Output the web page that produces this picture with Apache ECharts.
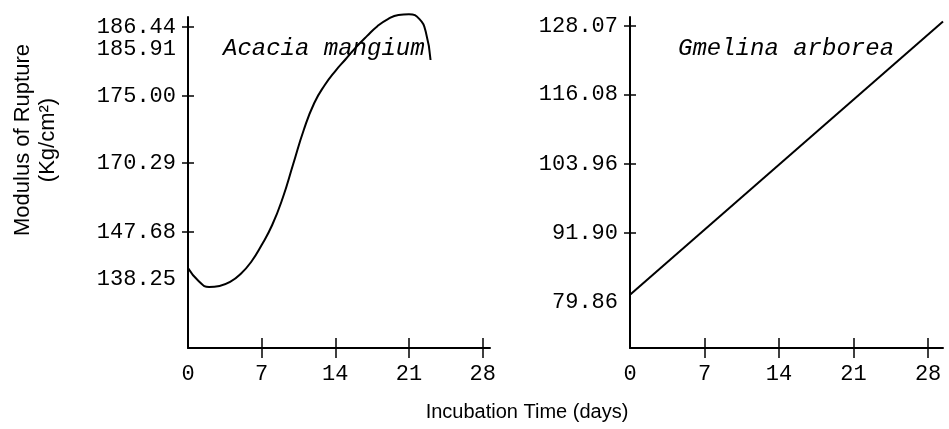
<!DOCTYPE html>
<html>
<head>
<meta charset="utf-8">
<script src="https://cdn.jsdelivr.net/npm/echarts@6.0.0/dist/echarts.min.js"></script>
<style>
  html, body { margin: 0; padding: 0; background: #fff; }
  #chart { width: 949px; height: 429px; }
</style>
</head>
<body>
<div id="chart"></div>
<script>
// incubation time ticks (days)
var dayTicks = [0, 7, 14, 21, 28]

// Acacia mangium: curve
var acaciaDays = [0, 1, 2, 3, 4, 5, 6, 7, 8, 9, 10, 11, 12, 13, 14, 15, 16, 17, 18, 19, 20, 21, 22, 22.6, 23.05]
var acaciaMor = [140.46, 137.85, 136.64, 136.85, 137.65, 139.25, 141.66, 145.07, 149.97, 158.82, 169.96, 172.61, 174.51,
  177.55, 180.80, 183.59, 185.96, 186.22, 186.46, 186.63, 186.73, 186.75, 186.63, 186.32, 183.36]
// printed y labels of the left panel (the printed axis is not linear)
var acaciaTicks = [138.25, 147.68, 170.29, 175.00, 185.91, 186.44]
// height of each printed label above the time axis, in axis units
var acaciaTickHeight = [69, 116, 185, 252, 299, 321]
var acaciaTickMarks = [147.68, 170.29, 175.00, 186.44]

// Gmelina arborea: straight line
var gmelinaDays = [0, 29.4]
var gmelinaMor = [81.1, 128.8]
var gmelinaTicks = [79.86, 91.90, 103.96, 116.08, 128.07]
var gmelinaTickMarks = [91.90, 103.96, 116.08, 128.07]

var mono = "'Liberation Mono', 'Courier New', monospace"
var sans = "'Liberation Sans', Arial, sans-serif"

// map a MOR value onto the printed (piecewise) left axis
function acaciaHeight(v) {
  var i = 0
  while (i < acaciaTicks.length - 2 && v > acaciaTicks[i + 1]) i++
  var v0 = acaciaTicks[i], v1 = acaciaTicks[i + 1]
  var h0 = acaciaTickHeight[i], h1 = acaciaTickHeight[i + 1]
  return h0 + (v - v0) / (v1 - v0) * (h1 - h0)
}

function xAxes(grid, max, inner) {
  return {
    type: 'value',
    gridIndex: grid,
    min: 0,
    max: max,
    position: 'bottom',
    axisLine: { show: !inner, onZero: false, lineStyle: { color: '#000', width: 2 } },
    axisTick: {
      show: true,
      inside: inner,
      length: 10,
      customValues: dayTicks.slice(1),
      lineStyle: { color: '#000', width: 1.5 }
    },
    axisLabel: {
      show: !inner,
      customValues: dayTicks,
      margin: 15,
      color: '#000',
      fontFamily: mono,
      fontSize: 22
    },
    splitLine: { show: false }
  }
}

function yAxes(grid, min, max, labels, marks, fmt, inner) {
  return {
    type: 'value',
    gridIndex: grid,
    min: min,
    max: max,
    position: 'left',
    axisLine: { show: !inner, onZero: false, lineStyle: { color: '#000', width: 2 } },
    axisTick: {
      show: true,
      inside: inner,
      length: 6,
      customValues: marks,
      lineStyle: { color: '#000', width: 1.5 }
    },
    axisLabel: {
      show: !inner,
      customValues: labels,
      formatter: fmt,
      margin: 12,
      color: '#000',
      fontFamily: mono,
      fontSize: 22
    },
    splitLine: { show: false }
  }
}

var chart = echarts.init(document.getElementById('chart'))

var leftLabels = acaciaTicks.map(acaciaHeight)
var leftMarks = acaciaTickMarks.map(acaciaHeight)
var leftFmt = function (val) {
  for (var i = 0; i < leftLabels.length; i++) {
    if (Math.abs(leftLabels[i] - val) < 0.01) return acaciaTicks[i].toFixed(2)
  }
  return ''
}
var rightFmt = function (val) { return val.toFixed(2) }

var option = {
  backgroundColor: '#fff',
  animation: false,
  grid: [
    { left: 188, right: 459, top: 17, bottom: 81 },
    { left: 630, right: 6, top: 17, bottom: 81 }
  ],
  xAxis: [
    xAxes(0, 28.7, false),
    xAxes(0, 28.7, true),
    xAxes(1, 29.4, false),
    xAxes(1, 29.4, true)
  ],
  yAxis: [
    yAxes(0, 0, 331, leftLabels, leftMarks, leftFmt, false),
    yAxes(0, 0, 331, leftLabels, leftMarks, leftFmt, true),
    yAxes(1, 71.8, 129.6, gmelinaTicks, gmelinaTickMarks, rightFmt, false),
    yAxes(1, 71.8, 129.6, gmelinaTicks, gmelinaTickMarks, rightFmt, true)
  ],
  graphic: [
    {
      type: 'text',
      x: 223,
      y: 49,
      style: {
        text: 'Acacia mangium',
        fontFamily: mono,
        fontStyle: 'italic',
        fontSize: 24,
        fill: '#000',
        verticalAlign: 'middle'
      }
    },
    {
      type: 'text',
      x: 678,
      y: 49,
      style: {
        text: 'Gmelina arborea',
        fontFamily: mono,
        fontStyle: 'italic',
        fontSize: 24,
        fill: '#000',
        verticalAlign: 'middle'
      }
    },
    {
      type: 'text',
      x: 35,
      y: 140,
      rotation: Math.PI / 2,
      style: {
        text: 'Modulus of Rupture\n(Kg/cm²)',
        fontFamily: sans,
        fontSize: 22,
        lineHeight: 25,
        fill: '#000',
        align: 'center',
        verticalAlign: 'middle'
      }
    },
    {
      type: 'text',
      x: 527,
      y: 412,
      style: {
        text: 'Incubation Time (days)',
        fontFamily: sans,
        fontSize: 20,
        fill: '#000',
        align: 'center',
        verticalAlign: 'middle'
      }
    }
  ],
  series: [
    {
      type: 'line',
      xAxisIndex: 0,
      yAxisIndex: 0,
      data: acaciaDays.map(function (d, i) { return [d, acaciaHeight(acaciaMor[i])] }),
      smooth: 0.5,
      clip: false,
      symbol: 'none',
      lineStyle: { color: '#000', width: 2 }
    },
    {
      type: 'line',
      xAxisIndex: 2,
      yAxisIndex: 2,
      data: gmelinaDays.map(function (d, i) { return [d, gmelinaMor[i]] }),
      clip: false,
      symbol: 'none',
      lineStyle: { color: '#000', width: 2 }
    }
  ]
}
chart.setOption(option, true)
</script>
</body>
</html>
